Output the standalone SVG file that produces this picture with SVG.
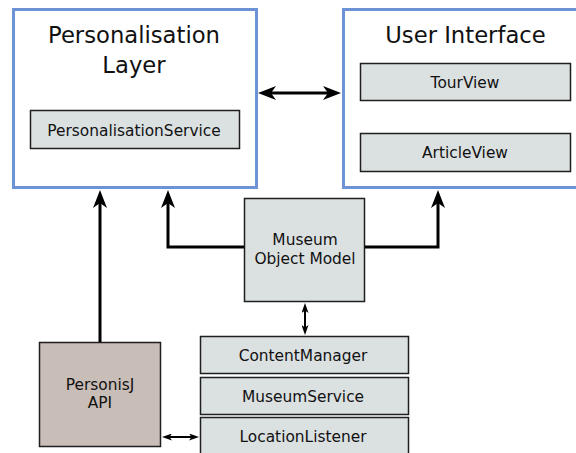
<svg xmlns="http://www.w3.org/2000/svg" width="576" height="453" viewBox="0 0 576 453">
<style>
.layer{fill:#ffffff;stroke:#6b93d6;stroke-width:3}
.box{fill:#dbe0e1;stroke:#1f1f1f;stroke-width:1.5}
.api{fill:#c8bdb7;stroke:#1f1f1f;stroke-width:1.5}
.title{font-family:"DejaVu Sans",sans-serif;font-size:22.7px;fill:#111;text-anchor:middle}
.lbl{font-family:"DejaVu Sans",sans-serif;font-size:15.4px;fill:#111;text-anchor:middle}
.thick{fill:none;stroke:#000;stroke-width:3}
.thin{fill:none;stroke:#000;stroke-width:2}
</style>
<defs>
<marker id="big" viewBox="0 0 18 14" markerWidth="18" markerHeight="14" refX="8" refY="7" orient="auto-start-reverse" markerUnits="userSpaceOnUse">
<path d="M0,0 L18,7 L0,14 L5,7 z" fill="#000"/>
</marker>
<marker id="small" viewBox="0 0 10 7" markerWidth="10" markerHeight="7" refX="5" refY="3.5" orient="auto-start-reverse" markerUnits="userSpaceOnUse">
<path d="M0,0 L10,3.5 L0,7 L2.5,3.5 z" fill="#000"/>
</marker>
</defs>
<g id="personalisation-layer">
<rect class="layer" x="13.5" y="9.5" width="243" height="178"/>
<text class="title" x="134" y="43">Personalisation</text>
<text class="title" x="134" y="73">Layer</text>
</g>
<g id="personalisation-service">
<rect class="box" x="30.5" y="110.5" width="209" height="38"/>
<text class="lbl" x="134" y="135.5">PersonalisationService</text>
</g>
<g id="user-interface">
<rect class="layer" x="343.5" y="9.5" width="250" height="178"/>
<text class="title" x="465.5" y="43">User Interface</text>
</g>
<g id="tour-view">
<rect class="box" x="360.5" y="63.5" width="210" height="37"/>
<text class="lbl" x="465" y="87.5">TourView</text>
</g>
<g id="article-view">
<rect class="box" x="360.5" y="133.5" width="210" height="38"/>
<text class="lbl" x="465" y="158">ArticleView</text>
</g>
<g id="museum-object-model">
<rect class="box" x="244.5" y="198.5" width="120" height="103"/>
<text class="lbl" x="305" y="245">Museum</text>
<text class="lbl" x="305" y="264">Object Model</text>
</g>
<g id="personisj-api">
<rect class="api" x="39.5" y="342.5" width="121" height="104"/>
<text class="lbl" x="100" y="390">PersonisJ</text>
<text class="lbl" x="100" y="408">API</text>
</g>
<g id="content-manager">
<rect class="box" x="200.5" y="336.5" width="208" height="37"/>
<text class="lbl" x="303" y="361">ContentManager</text>
</g>
<g id="museum-service">
<rect class="box" x="200.5" y="377.5" width="208" height="37"/>
<text class="lbl" x="303" y="401.5">MuseumService</text>
</g>
<g id="location-listener">
<rect class="box" x="200.5" y="417.5" width="208" height="40"/>
<text class="lbl" x="303" y="442">LocationListener</text>
</g>
<g id="connectors">
<path class="thick" d="M268,93 H331" marker-start="url(#big)" marker-end="url(#big)"/>
<path class="thick" d="M100,342 V200" marker-end="url(#big)"/>
<path class="thick" d="M244,247 H168 V200" marker-end="url(#big)"/>
<path class="thick" d="M365,247 H438 V200" marker-end="url(#big)"/>
<path class="thin" d="M305,308 V330" marker-start="url(#small)" marker-end="url(#small)"/>
<path class="thin" d="M167,437 H194" marker-start="url(#small)" marker-end="url(#small)"/>
</g>
</svg>
